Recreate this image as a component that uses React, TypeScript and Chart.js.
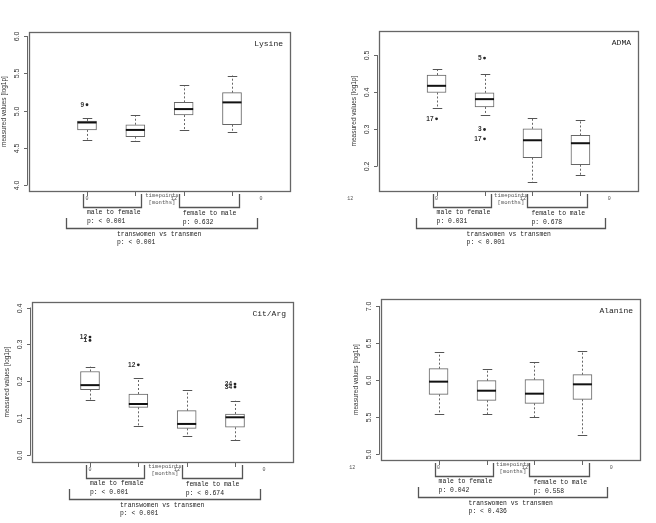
import React, { useEffect, useRef } from 'react';
import { Chart, registerables } from 'chart.js';

Chart.register(...registerables);

// ---------- shared axis / label data ----------
const positions = [1, 2, 3, 4];
const xAxisTickPositions = [-0.8, 1, 2.8, 4.6];
const xAxisTickLabels = ['12', '0', '12', '0'];
const xAxisTitle = ['timepoints', '[months]'];
const yAxisTitle = 'measured values [log1p]';
const comparisonLabels = ['male to female', 'female to male', 'transwomen vs transmen'];
const panelTitles = ['Lysine', 'ADMA', 'Cit/Arg', 'Alanine'];
const mtfPValues = ['< 0.001', '0.031', '< 0.001', '0.042'];
const ftmPValues = ['0.632', '0.678', '< 0.674', '0.558'];
const allPValues = ['< 0.001', '< 0.001', '< 0.001', '< 0.436'];
const yMins = [3.92, 0.133, -0.018, 4.924];
const yMaxs = [6.055, 0.565, 0.415, 7.094];
const ySteps = [0.5, 0.1, 0.1, 0.5];

// ---------- Lysine ----------
const lysineLow = [4.61, 4.59, 4.74, 4.71];
const lysineQ1 = [4.74, 4.65, 4.94, 4.81];
const lysineMedian = [4.84, 4.74, 5.02, 5.11];
const lysineQ3 = [4.86, 4.81, 5.11, 5.24];
const lysineHigh = [4.90, 4.94, 5.34, 5.47];
const lysineOutlierGroup = [1];
const lysineOutlierValue = [5.078];
const lysineOutlierLabel = ['9'];

// ---------- ADMA ----------
const admaLow = [0.356, 0.337, 0.157, 0.176];
const admaQ1 = [0.399, 0.360, 0.223, 0.204];
const admaMedian = [0.417, 0.381, 0.270, 0.262];
const admaQ3 = [0.446, 0.398, 0.301, 0.283];
const admaHigh = [0.463, 0.449, 0.329, 0.325];
const admaOutlierGroup = [1, 2, 2, 2];
const admaOutlierValue = [0.328, 0.492, 0.299, 0.274];
const admaOutlierLabel = ['17', '5', '3', '17'];

// ---------- Cit/Arg ----------
const citArgLow = [0.151, 0.079, 0.053, 0.041];
const citArgQ1 = [0.178, 0.130, 0.073, 0.076];
const citArgMedian = [0.190, 0.139, 0.085, 0.103];
const citArgQ3 = [0.227, 0.166, 0.121, 0.112];
const citArgHigh = [0.240, 0.208, 0.176, 0.148];
const citArgOutlierGroup = [1, 1, 2, 4, 4];
const citArgOutlierValue = [0.320, 0.311, 0.245, 0.193, 0.185];
const citArgOutlierLabel = ['12', '1', '12', '24', '34'];

// ---------- Alanine ----------
const alanineLow = [5.539, 5.539, 5.499, 5.256];
const alanineQ1 = [5.809, 5.728, 5.688, 5.742];
const alanineMedian = [5.980, 5.858, 5.818, 5.944];
const alanineQ3 = [6.155, 5.993, 6.007, 6.074];
const alanineHigh = [6.375, 6.146, 6.245, 6.389];
const alanineOutlierGroup: number[] = [];
const alanineOutlierValue: number[] = [];
const alanineOutlierLabel: string[] = [];

const panelData = [
  { low: lysineLow, q1: lysineQ1, med: lysineMedian, q3: lysineQ3, high: lysineHigh, og: lysineOutlierGroup, ov: lysineOutlierValue, ol: lysineOutlierLabel },
  { low: admaLow, q1: admaQ1, med: admaMedian, q3: admaQ3, high: admaHigh, og: admaOutlierGroup, ov: admaOutlierValue, ol: admaOutlierLabel },
  { low: citArgLow, q1: citArgQ1, med: citArgMedian, q3: citArgQ3, high: citArgHigh, og: citArgOutlierGroup, ov: citArgOutlierValue, ol: citArgOutlierLabel },
  { low: alanineLow, q1: alanineQ1, med: alanineMedian, q3: alanineQ3, high: alanineHigh, og: alanineOutlierGroup, ov: alanineOutlierValue, ol: alanineOutlierLabel },
];

// layout of the four canvases (position, size, padding around plot area)
const layouts = [
  { left: 0, top: 0, w: 328, h: 262, pad: { left: 29, top: 32, right: 38, bottom: 71 } },
  { left: 328, top: 0, w: 328, h: 262, pad: { left: 51, top: 31, right: 18, bottom: 71 } },
  { left: 0, top: 262, w: 328, h: 261, pad: { left: 32, top: 40, right: 35, bottom: 61 } },
  { left: 328, top: 262, w: 328, h: 261, pad: { left: 53, top: 37, right: 16, bottom: 63 } },
];

const MONO = '"Liberation Mono", "DejaVu Sans Mono", monospace';
const SANS = '"Liberation Sans", Arial, sans-serif';

function seg(ctx: CanvasRenderingContext2D, x1: number, y1: number, x2: number, y2: number) {
  ctx.beginPath();
  ctx.moveTo(x1, y1);
  ctx.lineTo(x2, y2);
  ctx.stroke();
}

const boxPlugin = {
  id: 'rbox',
  afterDatasetsDraw(chart: any, _args: any, opts: any) {
    const idx = opts.index;
    const d = panelData[idx];
    const ctx: CanvasRenderingContext2D = chart.ctx;
    const y = chart.scales.y;
    const bars = chart.getDatasetMeta(0).data;
    ctx.save();
    positions.forEach((_p, i) => {
      const bar = bars[i];
      const cx = Math.round(bar.x) + 0.5;
      const half = bar.width / 2;
      const yLo = y.getPixelForValue(d.low[i]);
      const yQ1 = y.getPixelForValue(d.q1[i]);
      const yMed = y.getPixelForValue(d.med[i]);
      const yQ3 = y.getPixelForValue(d.q3[i]);
      const yHi = y.getPixelForValue(d.high[i]);
      ctx.strokeStyle = '#666';
      ctx.lineWidth = 1;
      ctx.setLineDash([2, 2]);
      seg(ctx, cx, yQ3, cx, yHi);
      seg(ctx, cx, yQ1, cx, yLo);
      ctx.setLineDash([]);
      ctx.strokeStyle = '#555';
      seg(ctx, cx - half / 2, Math.round(yHi) + 0.5, cx + half / 2, Math.round(yHi) + 0.5);
      seg(ctx, cx - half / 2, Math.round(yLo) + 0.5, cx + half / 2, Math.round(yLo) + 0.5);
      ctx.strokeStyle = '#111';
      ctx.lineWidth = 2;
      seg(ctx, bar.x - half, yMed, bar.x + half, yMed);
    });
    ctx.restore();
  },
  afterDraw(chart: any, _args: any, opts: any) {
    const idx = opts.index;
    const d = panelData[idx];
    const ctx: CanvasRenderingContext2D = chart.ctx;
    const a = chart.chartArea;
    const x = chart.scales.x;
    const y = chart.scales.y;
    ctx.save();
    // frame
    ctx.strokeStyle = '#666';
    ctx.lineWidth = 1.3;
    ctx.strokeRect(a.left + 0.5, a.top + 0.5, a.right - a.left, a.bottom - a.top);

    // y axis
    const ticks = y.ticks;
    ctx.lineWidth = 1;
    ctx.strokeStyle = '#666';
    const ax = a.left - 1.5;
    if (ticks.length) {
      seg(ctx, ax, y.getPixelForValue(ticks[0].value), ax, y.getPixelForValue(ticks[ticks.length - 1].value));
    }
    ctx.fillStyle = '#333';
    ctx.font = `7px ${SANS}`;
    ctx.textAlign = 'center';
    ctx.textBaseline = 'middle';
    ticks.forEach((t: any) => {
      const py = Math.round(y.getPixelForValue(t.value)) + 0.5;
      seg(ctx, ax, py, ax - 3.5, py);
      const lbl = (Math.round(t.value * 10) / 10).toFixed(1);
      ctx.save();
      ctx.translate(a.left - 12, py);
      ctx.rotate(-Math.PI / 2);
      ctx.fillText(lbl === '-0.0' ? '0.0' : lbl, 0, 0);
      ctx.restore();
    });
    // y axis title
    ctx.save();
    ctx.font = `6.5px ${SANS}`;
    ctx.fillStyle = '#333';
    ctx.translate(a.left - 25, (a.top + a.bottom) / 2);
    ctx.rotate(-Math.PI / 2);
    ctx.fillText(yAxisTitle, 0, 0);
    ctx.restore();

    // panel title
    ctx.font = `8px ${MONO}`;
    ctx.fillStyle = '#222';
    ctx.textAlign = 'right';
    ctx.fillText(panelTitles[idx], a.right - 7, a.top + 12);

    // outlier labels
    ctx.font = `bold 6.5px ${SANS}`;
    ctx.fillStyle = '#333';
    d.og.forEach((g: number, i: number) => {
      const px = x.getPixelForValue(g);
      const py = y.getPixelForValue(d.ov[i]);
      ctx.fillText(d.ol[i], px - 3, py);
    });

    // x axis marks
    const by = a.bottom;
    ctx.strokeStyle = '#666';
    ctx.lineWidth = 1;
    positions.forEach((p) => {
      const px = Math.round(x.getPixelForValue(p)) + 0.5;
      seg(ctx, px, by + 1, px, by + 5);
    });
    ctx.font = `5px ${MONO}`;
    ctx.fillStyle = '#555';
    ctx.textAlign = 'center';
    xAxisTickPositions.forEach((p, i) => {
      const px = x.getPixelForValue(p);
      if (px < 8) return;
      ctx.fillText(xAxisTickLabels[i], px, by + 8);
    });
    ctx.font = `5.6px ${MONO}`;
    const tx = x.getPixelForValue(2.55);
    ctx.fillText(xAxisTitle[0], tx, by + 5);
    ctx.fillText(xAxisTitle[1], tx, by + 12);

    // brackets
    const p1 = x.getPixelForValue(1);
    const p2 = x.getPixelForValue(2);
    const p3 = x.getPixelForValue(3);
    const p4 = x.getPixelForValue(4);
    ctx.strokeStyle = '#555';
    ctx.lineWidth = 1.3;
    const bracket = (l: number, r: number, t: number, b: number) => {
      ctx.beginPath();
      ctx.moveTo(l, t);
      ctx.lineTo(l, b);
      ctx.lineTo(r, b);
      ctx.lineTo(r, t);
      ctx.stroke();
    };
    bracket(Math.round(p1 - 4) + 0.5, Math.round(p2 + 6) + 0.5, by + 3, by + 16.5);
    bracket(Math.round(p3 - 5) + 0.5, Math.round(p4 + 7) + 0.5, by + 3, by + 16.5);
    bracket(Math.round(p1 - 21) + 0.5, Math.round(p4 + 25) + 0.5, by + 27, by + 37.5);

    ctx.font = `6.4px ${MONO}`;
    ctx.fillStyle = '#222';
    ctx.textAlign = 'left';
    ctx.fillText(comparisonLabels[0], p1, by + 21);
    ctx.fillText('p: ' + mtfPValues[idx], p1, by + 30);
    ctx.fillText(comparisonLabels[1], p3 - 1, by + 22);
    ctx.fillText('p: ' + ftmPValues[idx], p3 - 1, by + 31);
    ctx.fillText(comparisonLabels[2], p1 + 30, by + 43);
    ctx.fillText('p: ' + allPValues[idx], p1 + 30, by + 51);
    ctx.restore();
  },
};

function Panel({ index }: { index: number }) {
  const ref = useRef<HTMLCanvasElement>(null);
  const lay = layouts[index];
  useEffect(() => {
    const d = panelData[index];
    const chart = new Chart(ref.current as HTMLCanvasElement, {
      type: 'bar',
      data: {
        datasets: [
          {
            type: 'bar',
            data: positions.map((p, i) => ({ x: p, y: [d.q1[i], d.q3[i]] })) as any,
            backgroundColor: '#ffffff',
            borderColor: '#666666',
            borderWidth: 1,
            borderSkipped: false,
            barThickness: 19,
          } as any,
          {
            type: 'scatter',
            data: d.og.map((g, i) => ({ x: g, y: d.ov[i] })),
            pointRadius: 1.4,
            pointBackgroundColor: '#222',
            pointBorderWidth: 0,
            showLine: false,
          } as any,
        ],
      },
      options: {
        responsive: false,
        maintainAspectRatio: false,
        animation: false,
        events: [],
        layout: { padding: lay.pad },
        scales: {
          x: { type: 'linear', min: -0.2, max: 5.2, offset: false, display: false, grid: { offset: false } },
          y: {
            type: 'linear',
            min: yMins[index],
            max: yMaxs[index],
            display: false,
            ticks: { stepSize: ySteps[index], includeBounds: false } as any,
          },
        },
        plugins: {
          legend: { display: false },
          tooltip: { enabled: false },
          rbox: { index },
        } as any,
      },
      plugins: [boxPlugin],
    });
    return () => chart.destroy();
  }, [index]);
  return (
    <canvas
      ref={ref}
      width={lay.w}
      height={lay.h}
      style={{ position: 'absolute', left: lay.left, top: lay.top, width: lay.w, height: lay.h }}
    />
  );
}

export default function App() {
  return (
    <div style={{ position: 'absolute', left: 0, top: 0, width: 656, height: 523, background: '#ffffff', overflow: 'hidden' }}>
      {[0, 1, 2, 3].map((i) => (
        <Panel key={i} index={i} />
      ))}
    </div>
  );
}
